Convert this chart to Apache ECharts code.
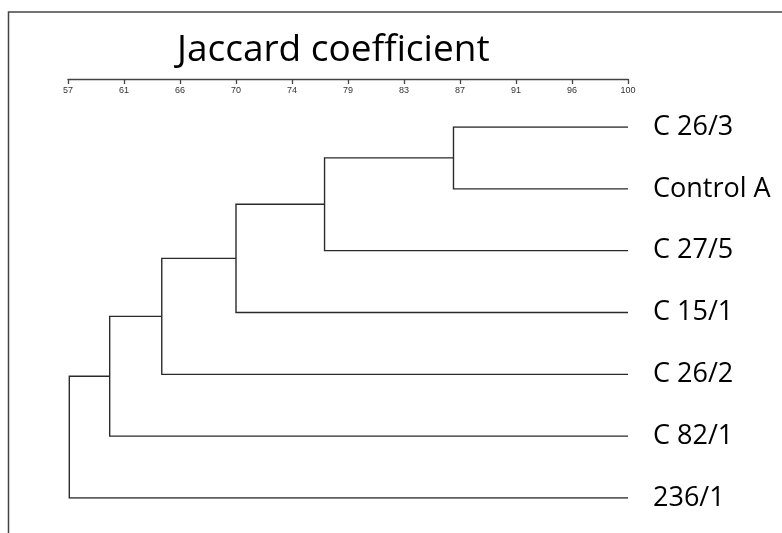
<!DOCTYPE html>
<html>
<head>
<meta charset="utf-8">
<script src="https://cdn.jsdelivr.net/npm/echarts@6/dist/echarts.min.js"></script>
<style>
html,body{margin:0;padding:0;background:#fff;}
#chart{width:782px;height:533px;}
</style>
</head>
<body>
<div id="chart"></div>
<script>
// Leaves, top to bottom
const leaves = ['C 26/3', 'Control A', 'C 27/5', 'C 15/1', 'C 26/2', 'C 82/1', '236/1'];
// Similarity (Jaccard, %) at which the cluster so far joins the next leaf
const mergeHeights = [86.6, 76.7, 69.9, 64.2, 60.2, 57.1];
// Axis tick labels (11 evenly spaced ticks from 57 to 100)
const tickLabels = ['57', '61', '66', '70', '74', '79', '83', '87', '91', '96', '100'];
const axisMin = 57, axisMax = 100, leafX = 100;

// Build dendrogram links from the merge list
const links = [];
let cx = leafX, cy = 0;
for (let k = 0; k < mergeHeights.length; k++) {
  const h = mergeHeights[k];
  const yb = k + 1;
  links.push({ coords: [[cx, cy], [h, cy], [h, yb], [leafX, yb]] });
  cy = (cy + yb) / 2;
  cx = h;
}

const chart = echarts.init(document.getElementById('chart'));
chart.setOption({
  animation: false,
  title: {
    text: 'Jaccard coefficient',
    left: 172, top: 27,
    textStyle: { fontFamily: 'Open Sans', fontWeight: 'normal', fontSize: 37, color: '#000' }
  },
  graphic: [{
    type: 'rect',
    shape: { x: 8.5, y: 12, width: 900, height: 700 },
    style: { fill: 'none', stroke: '#444', lineWidth: 1.5 },
    silent: true
  }],
  grid: { left: 68, width: 560, top: 127, height: 371 },
  xAxis: [{
    type: 'value', min: axisMin, max: axisMax, show: false
  }, {
    type: 'value', min: 0, max: tickLabels.length - 1, interval: 1,
    position: 'top', offset: 48,
    axisLine: { show: true, lineStyle: { color: '#444', width: 1.3 } },
    axisTick: { show: true, inside: true, length: 5, lineStyle: { color: '#444', width: 1.3 } },
    axisLabel: {
      inside: true, margin: 7, fontSize: 9, fontFamily: 'Liberation Sans', color: '#333',
      formatter: v => tickLabels[Math.round(v)] || ''
    },
    splitLine: { show: false }
  }],
  yAxis: {
    type: 'value', min: 0, max: leaves.length - 1, interval: 1, inverse: true,
    position: 'right',
    axisLine: { show: false }, axisTick: { show: false }, splitLine: { show: false },
    axisLabel: {
      margin: 25, fontSize: 27, fontFamily: 'Open Sans', color: '#000', align: 'left',
      padding: [0, 0, 4, 0],
      formatter: v => leaves[Math.round(v)] || ''
    }
  },
  series: [{
    type: 'lines',
    coordinateSystem: 'cartesian2d',
    xAxisIndex: 0, yAxisIndex: 0,
    polyline: true,
    silent: true,
    lineStyle: { color: '#2a2a2a', width: 1.4, opacity: 1 },
    data: links
  }]
});
</script>
</body>
</html>
